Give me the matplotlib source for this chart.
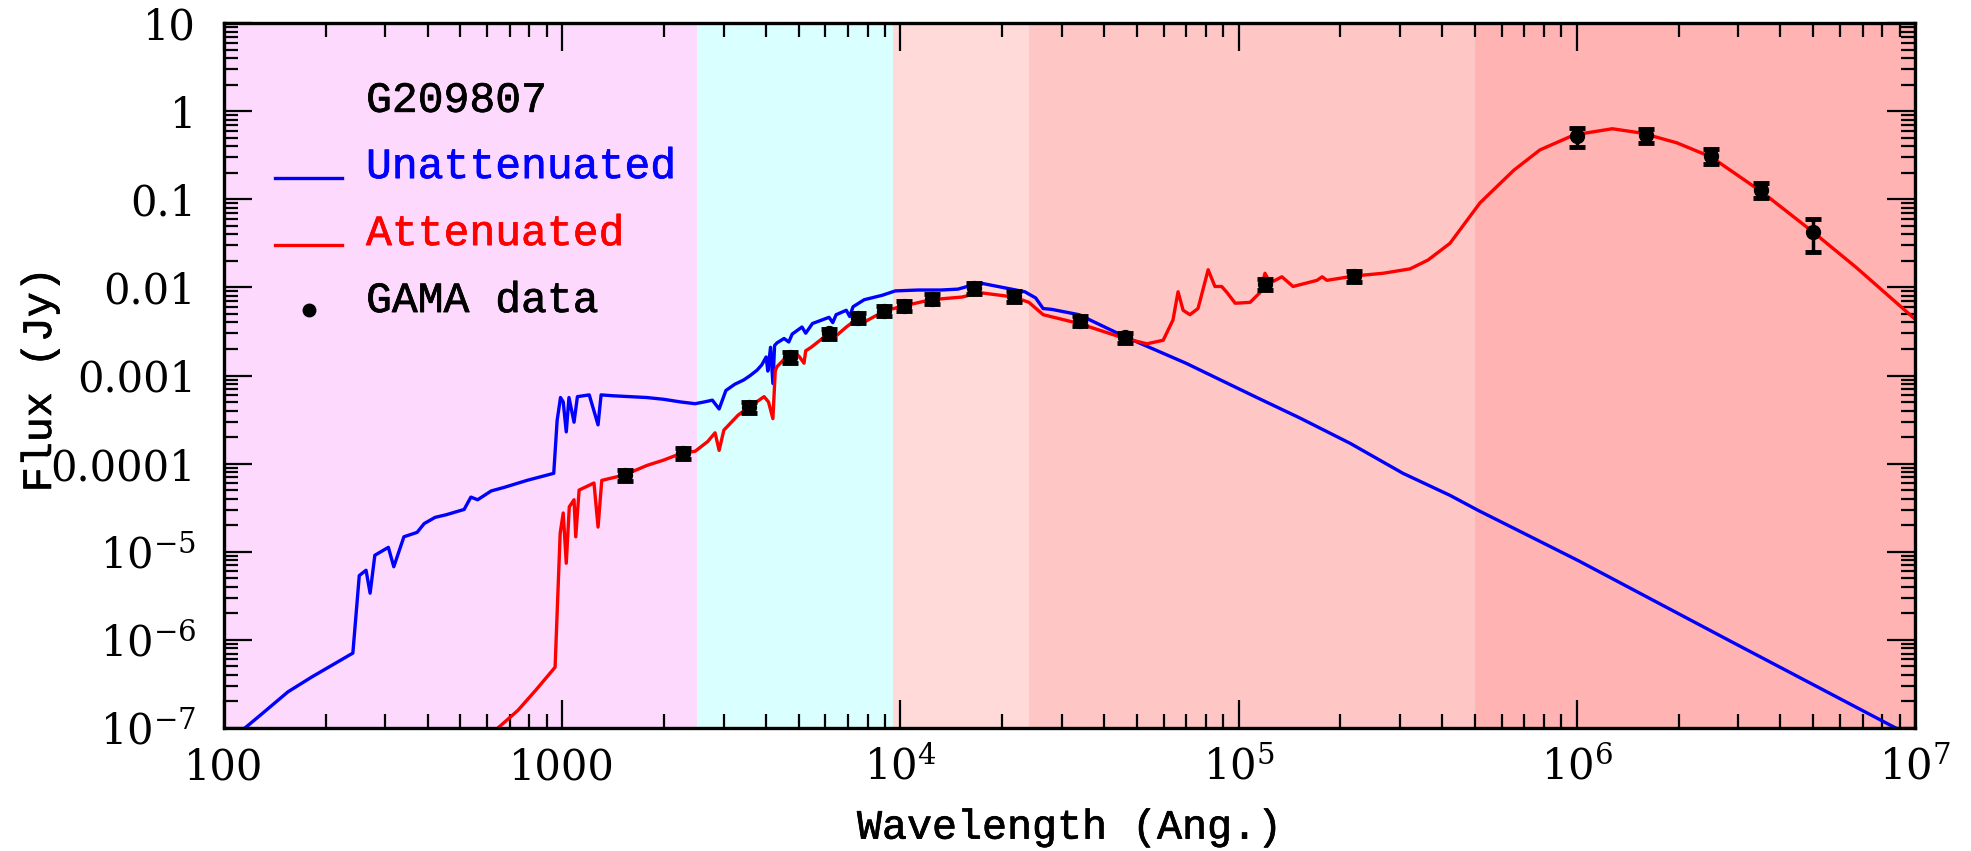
import numpy as np
import matplotlib
matplotlib.use("Agg")
import matplotlib.pyplot as plt
import matplotlib.patheffects as pe
from matplotlib.ticker import LogLocator, FixedLocator, FixedFormatter, NullFormatter

# background wavelength bands (Ang.)
band_edges = [100, 2500, 9500, 24000, 5.0e5, 1.0e7]
band_colors = ["#fdd9fd", "#d9ffff", "#ffdad9", "#ffc6c6", "#ffb3b3"]

# unattenuated model (log10 Ang., log10 Jy)
blue_logwave = [2.062, 2.115, 2.189, 2.26, 2.381, 2.40, 2.42, 2.432, 2.446, 2.486,
                2.502, 2.532, 2.571, 2.592, 2.624, 2.657, 2.71, 2.73, 2.75, 2.79,
                2.828, 2.896, 2.975, 2.985, 2.995, 3.003, 3.012, 3.02, 3.035, 3.045,
                3.08, 3.106, 3.115, 3.15, 3.2, 3.25, 3.30, 3.35, 3.393, 3.42,
                3.444, 3.464, 3.484, 3.51, 3.537, 3.556, 3.576, 3.59, 3.603, 3.608,
                3.616, 3.623, 3.628, 3.635, 3.656, 3.67, 3.68, 3.709, 3.72, 3.74,
                3.789, 3.80, 3.81, 3.84, 3.85, 3.86, 3.893, 3.946, 3.985, 4.053,
                4.12, 4.17, 4.235, 4.315, 4.368, 4.40, 4.422, 4.448, 4.528, 4.664,
                4.844, 5.054, 5.18, 5.33, 5.486, 5.625, 5.708, 6.004, 6.447, 6.953]
blue_logflux = [-7.0, -6.83, -6.59, -6.42, -6.15, -5.27, -5.21, -5.47, -5.04, -4.95,
                -5.17, -4.83, -4.78, -4.68, -4.61, -4.58, -4.52, -4.38, -4.41, -4.31,
                -4.27, -4.19, -4.11, -3.51, -3.25, -3.30, -3.64, -3.25, -3.53, -3.24,
                -3.22, -3.56, -3.22, -3.23, -3.24, -3.25, -3.27, -3.30, -3.32, -3.30,
                -3.28, -3.38, -3.17, -3.10, -3.05, -3.00, -2.94, -2.88, -2.79, -2.95,
                -2.68, -3.09, -2.66, -2.63, -2.58, -2.62, -2.53, -2.45, -2.52, -2.41,
                -2.34, -2.40, -2.31, -2.26, -2.33, -2.22, -2.14, -2.09, -2.04, -2.03,
                -2.03, -2.02, -1.95, -2.01, -2.05, -2.12, -2.24, -2.25, -2.31, -2.56,
                -2.86, -3.25, -3.48, -3.77, -4.11, -4.36, -4.53, -5.10, -6.00, -7.02]

# attenuated model (log10 Ang., log10 Jy)
red_logwave = [2.81, 2.869, 2.922, 2.979, 2.994, 3.003, 3.012, 3.021, 3.035, 3.04,
               3.05, 3.094, 3.106, 3.117, 3.183, 3.251, 3.30, 3.354, 3.393, 3.43,
               3.452, 3.464, 3.478, 3.52, 3.552, 3.597, 3.61, 3.623, 3.63, 3.635,
               3.66, 3.682, 3.70, 3.715, 3.72, 3.736, 3.789, 3.81, 3.84, 3.875,
               3.89, 3.952, 3.96, 3.97, 4.011, 4.09, 4.182, 4.235, 4.336, 4.38,
               4.422, 4.528, 4.664, 4.729, 4.777, 4.806, 4.821, 4.836, 4.856, 4.88,
               4.91, 4.93, 4.95, 4.966, 4.99, 5.034, 5.063, 5.078, 5.093, 5.128,
               5.161, 5.232, 5.247, 5.261, 5.344, 5.427, 5.507, 5.56, 5.625, 5.714,
               5.814, 5.891, 5.992, 6.105, 6.193, 6.296, 6.397, 6.548, 6.698, 6.825,
               7.003]
red_logflux = [-7.0, -6.80, -6.57, -6.31, -4.79, -4.56, -5.13, -4.49, -4.41, -4.83,
               -4.30, -4.22, -4.72, -4.19, -4.13, -4.02, -3.96, -3.88, -3.86, -3.75,
               -3.65, -3.85, -3.62, -3.45, -3.36, -3.24, -3.30, -3.49, -2.95, -2.90,
               -2.80, -2.75, -2.78, -2.86, -2.72, -2.68, -2.52, -2.55, -2.45, -2.35,
               -2.40, -2.27, -2.33, -2.25, -2.21, -2.14, -2.11, -2.06, -2.11, -2.17,
               -2.31, -2.41, -2.58, -2.64, -2.60, -2.37, -2.05, -2.26, -2.31, -2.24,
               -1.80, -1.99, -1.99, -2.06, -2.18, -2.17, -2.06, -1.84, -1.95, -1.88,
               -1.99, -1.92, -1.88, -1.92, -1.87, -1.84, -1.79, -1.69, -1.50, -1.04,
               -0.67, -0.44, -0.27, -0.20, -0.25, -0.36, -0.52, -0.92, -1.37, -1.77,
               -2.37]

# GAMA photometry
gama_wave = [1530, 2270, 3560, 4720, 6150, 7500, 8950, 10260, 12400, 16500,
             21700, 34000, 46000, 1.2e5, 2.2e5, 1.0e6, 1.6e6, 2.5e6, 3.5e6, 5.0e6]
gama_flux = [7.4e-5, 1.32e-4, 4.4e-4, 1.62e-3, 3.0e-3, 4.5e-3, 5.4e-3, 6.2e-3, 7.4e-3, 9.8e-3,
             8.0e-3, 4.2e-3, 2.7e-3, 1.1e-2, 1.35e-2, 0.52, 0.535, 0.31, 0.127, 0.042]
gama_err = [1.0e-5, 1.8e-5, 6.0e-5, 2.2e-4, 4.0e-4, 6.0e-4, 7.0e-4, 8.0e-4, 1.0e-3, 1.3e-3,
            1.1e-3, 5.5e-4, 3.5e-4, 1.6e-3, 2.0e-3, 0.13, 0.10, 0.06, 0.025, 0.017]

xtick_vals = [1e2, 1e3, 1e4, 1e5, 1e6, 1e7]
xtick_labels = ["100", "1000", r"$10^4$", r"$10^5$", r"$10^6$", r"$10^7$"]
ytick_vals = [1e-7, 1e-6, 1e-5, 1e-4, 1e-3, 1e-2, 1e-1, 1, 10]
ytick_labels = [r"$10^{-7}$", r"$10^{-6}$", r"$10^{-5}$", "0.0001", "0.001",
                "0.01", "0.1", "1", "10"]

plt.rcParams["mathtext.fontset"] = "dejavuserif"
MONO = "Liberation Mono"


def thick(color):
    # a bit heavier than the regular mono face, lighter than bold
    return [pe.withStroke(linewidth=0.5, foreground=color)]


fig = plt.figure(figsize=(19.71, 8.51), dpi=100)
ax = fig.add_axes([224 / 1971, 1 - 728 / 851, 1691 / 1971, 705 / 851])

for lo, hi, c in zip(band_edges[:-1], band_edges[1:], band_colors):
    ax.axvspan(lo, hi, color=c, lw=0, zorder=0)

ax.plot(10 ** np.array(blue_logwave), 10 ** np.array(blue_logflux), color="blue", lw=2.4, zorder=2)
ax.plot(10 ** np.array(red_logwave), 10 ** np.array(red_logflux), color="red", lw=2.4, zorder=3)
ax.errorbar(gama_wave, gama_flux, yerr=gama_err, fmt="o", color="black", ms=10,
            capsize=6, capthick=3.5, elinewidth=2.5, zorder=4)

ax.set_xscale("log")
ax.set_yscale("log")
ax.set_xlim(100, 1e7)
ax.set_ylim(1e-7, 10)

ax.xaxis.set_major_locator(FixedLocator(xtick_vals))
ax.xaxis.set_major_formatter(FixedFormatter(xtick_labels))
ax.yaxis.set_major_locator(FixedLocator(ytick_vals))
ax.yaxis.set_major_formatter(FixedFormatter(ytick_labels))
ax.xaxis.set_minor_locator(LogLocator(base=10, subs=np.arange(2, 10), numticks=30))
ax.yaxis.set_minor_locator(LogLocator(base=10, subs=np.arange(2, 10), numticks=30))
ax.xaxis.set_minor_formatter(NullFormatter())
ax.yaxis.set_minor_formatter(NullFormatter())

ax.tick_params(which="both", direction="in", top=True, right=True, width=1.6, color="black")
ax.tick_params(which="major", length=20)
ax.tick_params(which="minor", length=10)
ax.tick_params(axis="x", pad=13)
ax.tick_params(axis="y", pad=20)
for lab in ax.get_xticklabels() + ax.get_yticklabels():
    lab.set_family("DejaVu Serif")
    lab.set_fontsize(30)
for sp in ax.spines.values():
    sp.set_linewidth(2.4)
    sp.set_zorder(5)

ax.set_xlabel("Wavelength (Ang.)", family=MONO, fontsize=30, path_effects=thick("black"))
ax.xaxis.set_label_coords(0.5, -0.113)
ax.set_ylabel("Flux (Jy)", family=MONO, fontsize=30, path_effects=thick("black"))
ax.yaxis.set_label_coords(-0.097, 0.494)

# legend block
leg_kw = dict(transform=ax.transAxes, family=MONO, fontsize=31)
ax.text(0.084, 0.874, "G209807", color="black", path_effects=thick("black"), **leg_kw)
ax.text(0.084, 0.780, "Unattenuated", color="blue", path_effects=thick("blue"), **leg_kw)
ax.text(0.084, 0.685, "Attenuated", color="red", path_effects=thick("red"), **leg_kw)
ax.text(0.084, 0.590, "GAMA data", color="black", path_effects=thick("black"), **leg_kw)
ax.plot([0.030, 0.070], [0.780, 0.780], transform=ax.transAxes, color="blue", lw=2.4)
ax.plot([0.030, 0.070], [0.685, 0.685], transform=ax.transAxes, color="red", lw=2.4)
ax.plot([0.050], [0.593], "o", transform=ax.transAxes, color="black", ms=9)

fig.savefig("out.png", dpi=100)
